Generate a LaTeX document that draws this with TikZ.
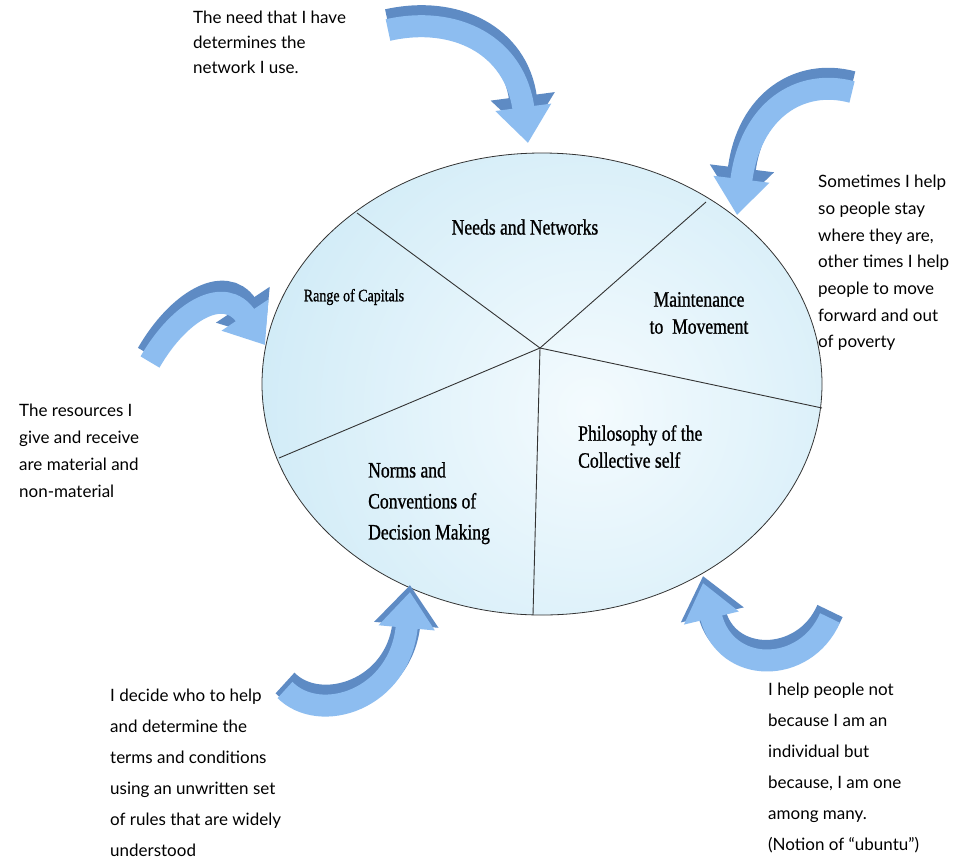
\documentclass[tikz,border=0pt]{standalone}
\usepackage{fontspec}
\setmainfont{Liberation Serif}
\newfontfamily\sidefont{Lato}
\newfontfamily\labfont[FakeStretch=0.8,FakeBold=0.9]{Liberation Serif}
\usetikzlibrary{arrows.meta}
\definecolor{arrL}{HTML}{8DBDF0}
\definecolor{arrD}{HTML}{5E8BC4}
\definecolor{ellO}{HTML}{BCE2F3}
\definecolor{ellI}{HTML}{F4FBFE}
\definecolor{edge}{HTML}{333333}
\tikzset{
  sidetext/.style={anchor=north west, inner sep=0pt, align=left,
    font={\sidefont\fontsize{17}{#1}\selectfont}},
  labtext/.style={inner sep=0pt, align=center,
    font={\labfont\fontsize{22}{#1}\selectfont}},
  lableft/.style={inner sep=0pt, align=left, anchor=north west,
    font={\labfont\fontsize{22}{#1}\selectfont}},
  spoke/.style={draw=edge, line width=0.9pt},
  arrowdark/.style={draw=arrD, line width=28pt, -{Triangle[width=62pt,length=40pt]}, arrD},
  arrowlight/.style={draw=arrL, line width=22pt, -{Triangle[width=54pt,length=36pt]}, arrL},
}
\newcommand{\bigarrow}[4]{%
  \path[arrowdark, shift={(0,-7)}] #1 .. controls #2 and #3 .. #4;
  \path[arrowlight] #1 .. controls #2 and #3 .. #4;
}
\begin{document}
\begin{tikzpicture}[x=1pt,y=-1pt]
\useasboundingbox (0,0) rectangle (961,863);
\fill[white] (0,0) rectangle (961,863);

% ellipse
\coordinate (E) at (542,384);
\begin{scope}
  \clip (E) ellipse [x radius=280, y radius=231];
  \shade[inner color=ellI, outer color=ellO] (590,410) circle (540);
\end{scope}
\draw[edge, line width=0.8pt] (E) ellipse [x radius=280, y radius=231];

% spokes
\coordinate (C) at (540,348);
\coordinate (s1) at (357,213);
\coordinate (s2) at (706,202);
\coordinate (s3) at (822,408);
\coordinate (s4) at (533,615);
\coordinate (s5) at (279,458);
\foreach \s in {s1,s2,s3,s4,s5} \draw[spoke] (C) -- (\s);

% labels
\node[labtext=27] (needs) at (525,227) {Needs and Networks};
\node[labtext=27] (maint) at (699,313) {Maintenance\\to\ \ Movement};
\node[inner sep=0pt, font={\labfont\fontsize{17.5}{20}\selectfont}] (range) at (354,297) {Range of Capitals};
\node[lableft=27] (phil) at (578,425) {Philosophy of the\\Collective self};
\node[lableft=31] (norms) at (368,462) {Norms and\\Conventions of\\Decision Making};

% side texts
\node[sidetext=25] (t1) at (193,11) {The need that I have\\determines the\\network I use.};
\node[sidetext=26.7] (t2) at (818,175) {Sometimes I help\\so people stay\\where they are,\\other times I help\\people to move\\forward and out\\of poverty};
\node[sidetext=27] (t3) at (19,404) {The resources I\\give and receive\\are material and\\non-material};
\node[sidetext=31] (t4) at (110,689) {I decide who to help\\and determine the\\terms and conditions\\using an unwritten set\\of rules that are widely\\understood};
\node[sidetext=31] (t5) at (768,683) {I help people not\\because I am an\\individual but\\because, I am one\\among many.\\(Notion of “ubuntu”)};

% arrows
\bigarrow{(388,30)}{(455,15)}{(515,45)}{(528,143)}
\bigarrow{(852,92)}{(800,78)}{(750,110)}{(737,215)}
\bigarrow{(150,362)}{(180,310)}{(225,285)}{(265,345)}
\bigarrow{(285,690)}{(320,725)}{(400,700)}{(410,592)}
\bigarrow{(830,618)}{(805,675)}{(725,675)}{(703,583)}
\end{tikzpicture}
\end{document}
